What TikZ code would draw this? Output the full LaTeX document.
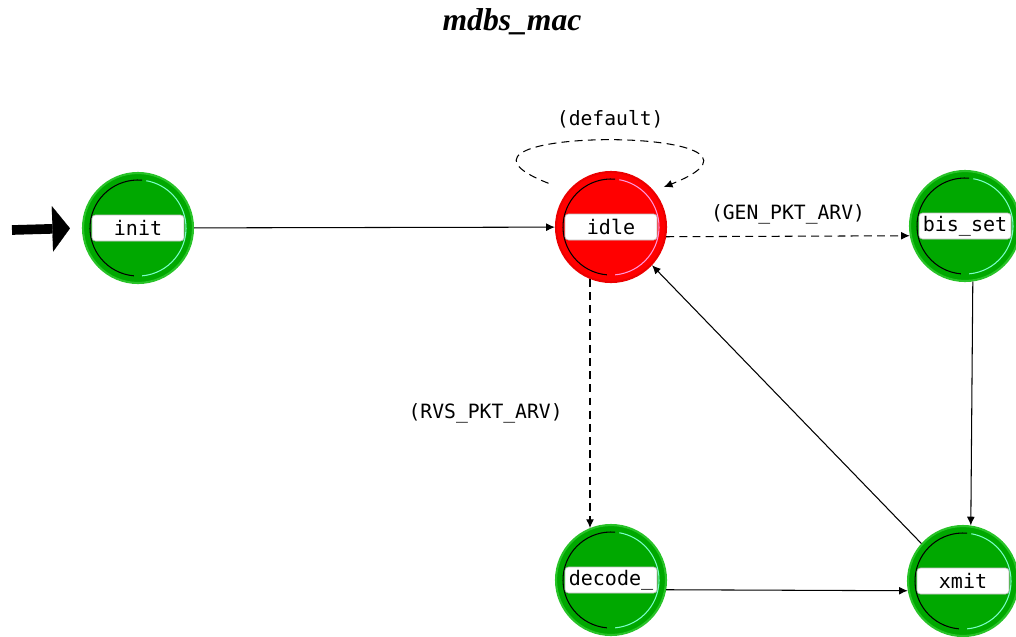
\documentclass[tikz,border=0pt]{standalone}
\usepackage{fontspec}
\setmainfont{Liberation Serif}
\newfontfamily\statefont{DejaVu Sans Mono}
\usetikzlibrary{arrows.meta}

\definecolor{stgreen}{RGB}{0,168,0}
\definecolor{stgreenrim}{RGB}{40,195,40}
\definecolor{stred}{RGB}{255,0,0}
\definecolor{stredrim}{RGB}{235,0,0}
\definecolor{rimcyan}{RGB}{120,255,200}
\definecolor{rimpink}{RGB}{255,150,220}

\tikzset{
	state/.style={circle,minimum size=2.2cm,inner sep=0pt,line width=1.2pt},
	forced/.style={state,fill=stgreen,draw=stgreenrim},
	unforced/.style={state,fill=stred,draw=stredrim},
	tag/.style={rectangle,rounded corners=2pt,fill=white,draw=black!25,
		minimum width=1.84cm,minimum height=0.52cm,inner sep=0pt,
		font=\statefont\fontsize{11.4}{11.4}\selectfont},
	cond/.style={font=\statefont\fontsize{11.2}{12}\selectfont},
	tr/.style={line width=0.6pt,-{Latex[length=5pt,width=4.5pt]}},
	trc/.style={tr,dash pattern=on 4.5pt off 3pt},
}

\begin{document}
\begin{tikzpicture}[x=0.02cm,y=0.02cm]
	\useasboundingbox (0,0) rectangle (1016,-636);
	\node [font=\bfseries\itshape\fontsize{18}{20}\selectfont] (title) at (512,-22) {mdbs\_mac};

	% states
	\node [forced] (init) at (138,-228) {};
	\node [unforced] (idle) at (611,-227) {};
	\node [forced] (bisset) at (965,-226) {};
	\node [forced] (decode) at (611,-580) {};
	\node [forced] (xmit) at (963,-581) {};
	\foreach \s/\c in {init/rimcyan,idle/rimpink,bisset/rimcyan,decode/rimcyan,xmit/rimcyan}{
		\draw [line width=0.6pt] ([shift={(85:48)}]\s.center) arc[start angle=85,end angle=265,radius=48];
		\draw [\c,line width=0.6pt] ([shift={(-85:48)}]\s.center) arc[start angle=-85,end angle=80,radius=48];
	}
	\node [tag] (initlbl) at (init) {init};
	\node [tag] (idlelbl) at (idle) {idle};
	\node [tag] (bissetlbl) at (bisset) {bis\_set};
	\node [tag] (decodelbl) at (decode) {decode\_};
	\node [tag] (xmitlbl) at (xmit) {xmit};

	% entry
	\coordinate (entry) at (12,-230);
	\draw [line width=5.5pt,-{Triangle[length=10pt 0 0,width=26pt 0 0,line width=0.1pt]},shorten >=0.24cm] (entry) -- (init.west);

	\draw
	(init) edge[tr] (idle)
	(idle.-10) edge[trc] node[cond,above=3pt] {(GEN\_PKT\_ARV)} (bisset.190)
	(idle.-112) edge[trc] node[cond,left=0.42cm,pos=0.54] {(RVS\_PKT\_ARV)} (decode.112)
	(bisset.-82) edge[tr] (xmit.82)
	(decode.-10) edge[tr] (xmit.190)
	(xmit.138) edge[tr] (idle.-43);
	\draw [trc,shorten <=12pt,shorten >=6pt] (idle.140) .. controls (400,-125) and (820,-125) .. (idle.40)
		node [cond,pos=0.5,above=4pt] {(default)};
\end{tikzpicture}
\end{document}
